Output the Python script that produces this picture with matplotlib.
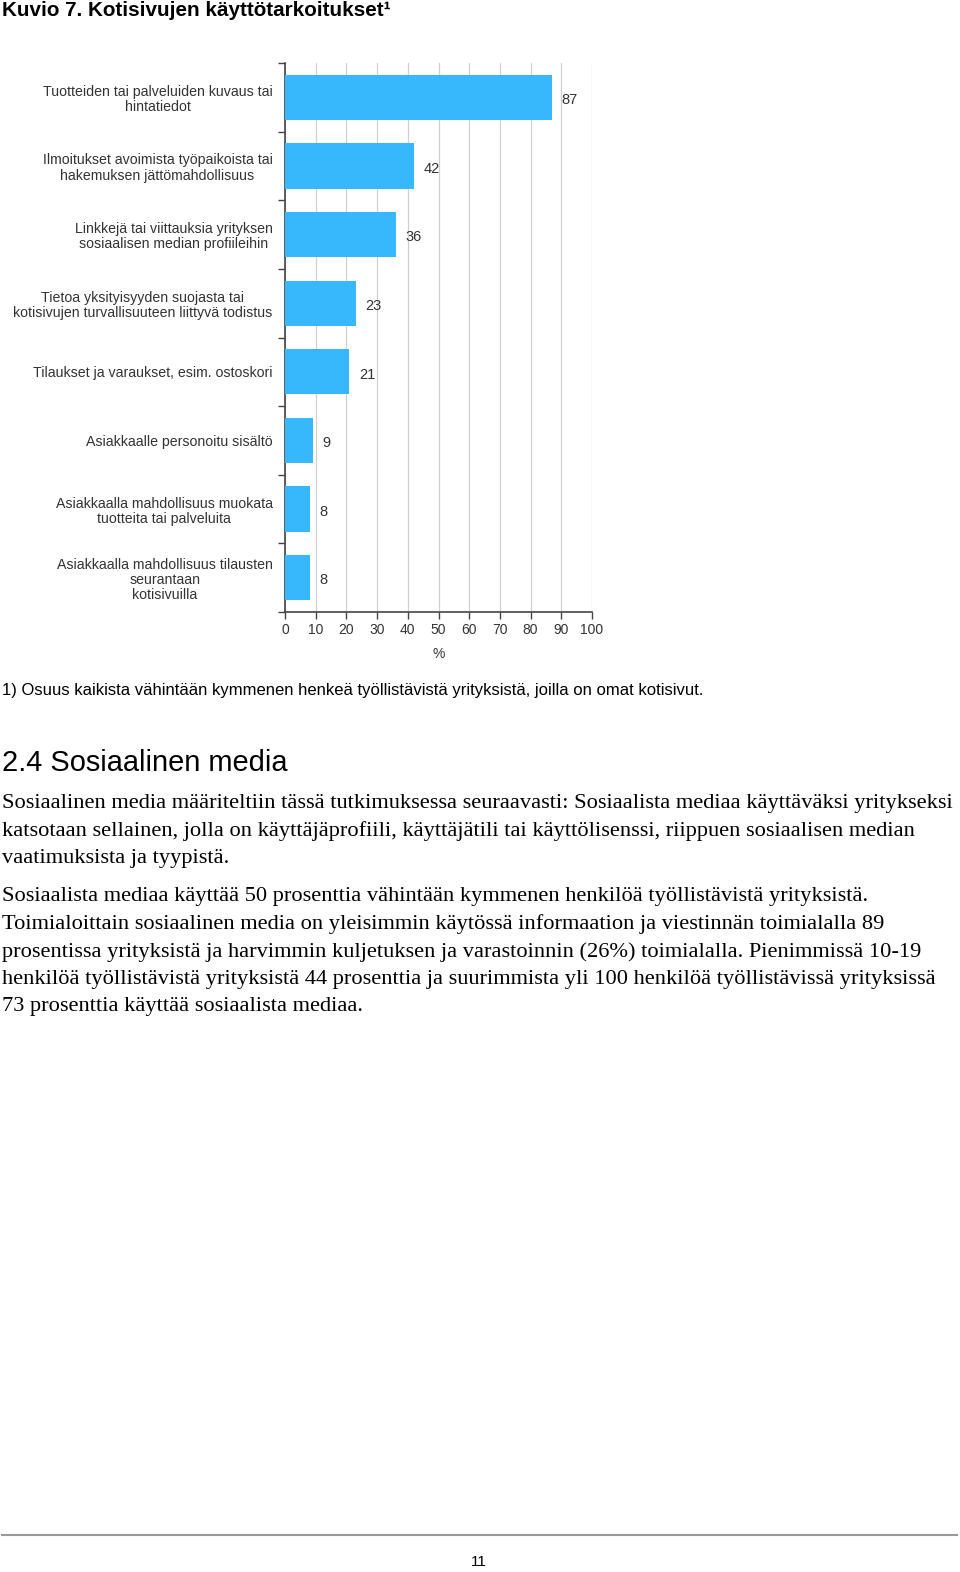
import numpy as np
import matplotlib
matplotlib.use("Agg")
import matplotlib.pyplot as plt

# chart data
categories = [
    "Tuotteiden tai palveluiden kuvaus tai\nhintatiedot",
    "Ilmoitukset avoimista työpaikoista tai\nhakemuksen jättömahdollisuus",
    "Linkkejä tai viittauksia yrityksen\nsosiaalisen median profiileihin",
    "Tietoa yksityisyyden suojasta tai\nkotisivujen turvallisuuteen liittyvä todistus",
    "Tilaukset ja varaukset, esim. ostoskori",
    "Asiakkaalle personoitu sisältö",
    "Asiakkaalla mahdollisuus muokata\ntuotteita tai palveluita",
    "Asiakkaalla mahdollisuus tilausten\nseurantaan\nkotisivuilla",
]
values = [87, 42, 36, 23, 21, 9, 8, 8]
xticks = [0, 10, 20, 30, 40, 50, 60, 70, 80, 90, 100]

title = "Kuvio 7. Kotisivujen käyttötarkoitukset¹"
footnote = "1) Osuus kaikista vähintään kymmenen henkeä työllistävistä yrityksistä, joilla on omat kotisivut."
heading = "2.4 Sosiaalinen media"
para1 = [
    "Sosiaalinen media määriteltiin tässä tutkimuksessa seuraavasti: Sosiaalista mediaa käyttäväksi yritykseksi",
    "katsotaan sellainen, jolla on käyttäjäprofiili, käyttäjätili tai käyttölisenssi, riippuen sosiaalisen median",
    "vaatimuksista ja tyypistä.",
]
para2 = [
    "Sosiaalista mediaa käyttää 50 prosenttia vähintään kymmenen henkilöä työllistävistä yrityksistä.",
    "Toimialoittain sosiaalinen media on yleisimmin käytössä informaation ja viestinnän toimialalla 89",
    "prosentissa yrityksistä ja harvimmin kuljetuksen ja varastoinnin (26%) toimialalla. Pienimmissä 10-19",
    "henkilöä työllistävistä yrityksistä 44 prosenttia ja suurimmista yli 100 henkilöä työllistävissä yrityksissä",
    "73 prosenttia käyttää sosiaalista mediaa.",
]

W, H = 960, 1572
fig = plt.figure(figsize=(W / 100, H / 100), dpi=100)

def fy(py):
    return 1 - py / H

# axes placed in pixels: x 285..592, y 63..612
ax = fig.add_axes([285 / W, fy(612), (592 - 285) / W, (612 - 63) / H])
pos = np.arange(len(values))
ax.barh(pos, values, height=0.66, color="#38b8fc", zorder=3)
ax.set_ylim(len(values) - 0.5, -0.5)
ax.set_xlim(0, 100)

for p, v in zip(pos, values):
    ax.annotate(str(v), (v, p), xytext=(7, -2), textcoords="offset points",
                va="center", ha="left", fontsize=10.5, color="#333333",
                family="Liberation Sans")

ax.set_xticks(xticks)
ax.set_xticklabels([str(t) for t in xticks], fontsize=10, color="#333333",
                   family="Liberation Sans")
ax.set_yticks(np.arange(len(values) + 1) - 0.5)
ax.set_yticklabels([])
ax.set_yticks(pos, minor=True)
ax.set_yticklabels(categories, minor=True, fontsize=10.2, color="#333333",
                   family="Liberation Sans", ha="right", multialignment="center",
                   linespacing=1.12)
ax.tick_params(axis="y", which="minor", length=0, pad=9)
ax.tick_params(axis="y", which="major", length=5, width=1, color="#444444")
ax.tick_params(axis="x", length=5, width=1, color="#444444", pad=3)
ax.grid(axis="x", color="#d0d0d0", linewidth=0.9, zorder=0)
ax.spines["top"].set_visible(False)
ax.spines["right"].set_visible(False)
ax.spines["left"].set_color("#444444")
ax.spines["bottom"].set_color("#444444")
ax.spines["left"].set_linewidth(1.2)
ax.spines["bottom"].set_linewidth(1.2)
ax.set_xlabel("%", fontsize=10, color="#333333", labelpad=7, family="Liberation Sans")

# page texts
fig.text(2 / W, fy(11), title, fontsize=14.9, fontweight="bold",
         family="Liberation Sans", va="center", ha="left")
fig.text(2 / W, fy(691), footnote, fontsize=11.95, family="Liberation Sans",
         va="center", ha="left")
fig.text(2 / W, fy(763), heading, fontsize=20.9, family="Liberation Sans",
         va="center", ha="left")

y = 804
for line in para1:
    fig.text(2 / W, fy(y), line, fontsize=16.15, family="Liberation Serif",
             va="center", ha="left")
    y += 27.5
y = 897
for line in para2:
    fig.text(2 / W, fy(y), line, fontsize=16.15, family="Liberation Serif",
             va="center", ha="left")
    y += 27.4

fig.add_artist(plt.Line2D([2 / W, 957 / W], [fy(1535), fy(1535)],
                          color="#999999", linewidth=1.5))
fig.text(479 / W, fy(1562), "11", fontsize=11, family="Liberation Sans",
         va="center", ha="center")

fig.savefig("out.png", dpi=100, facecolor="white")
